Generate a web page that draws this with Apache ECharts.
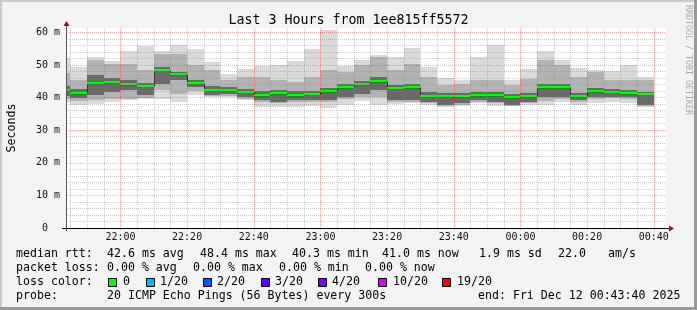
<!DOCTYPE html>
<html><head><meta charset="utf-8">
<script src="https://cdn.jsdelivr.net/npm/echarts@6/dist/echarts.min.js"></script>
<style>html,body{margin:0;padding:0;background:#f3f3f3}#c{width:697px;height:310px}</style>
</head><body><div id="c"></div>
<script>
// ---- data (values in ms) ----
const axisStart = '21:43:40';
const axisEnd = '00:43:40';
const slotEnds = ['21:45','21:50','21:55','22:00','22:05','22:10','22:15','22:20','22:25','22:30','22:35','22:40','22:45','22:50','22:55','23:00','23:05','23:10','23:15','23:20','23:25','23:30','23:35','23:40','23:45','23:50','23:55','00:00','00:05','00:10','00:15','00:20','00:25','00:30','00:35','00:40'];
const medians = [42.4,41.5,44.6,44.8,44.1,43.6,48.4,47.2,44.6,42.2,42.4,41.6,40.9,41.5,40.9,41.1,42.0,43.3,44.2,45.1,43.0,43.2,40.6,40.4,40.4,40.8,40.8,40.3,40.4,43.1,43.2,40.5,41.9,41.6,41.3,41.0];
const pingMax = [52.1,49.4,52.4,51.1,54.2,55.7,54.2,56.2,55.0,50.9,47.3,48.7,49.7,49.9,51.1,54.8,60.6,49.6,51.6,53.0,52.6,55.2,49.4,46.0,45.3,52.6,56.0,45.3,48.7,54.2,51.6,49.1,48.4,48.1,49.9,46.3];
const upperMid = [47.5,45.3,51.4,50.4,50.4,48.4,53.5,53.5,49.9,48.4,45.3,46.3,46.3,45.3,44.8,46.3,48.4,47.9,49.9,52.4,48.4,50.4,46.3,43.8,44.3,45.3,45.3,43.8,45.8,51.4,49.9,46.3,47.9,45.3,45.3,45.3];
const upperCore = [43.5,42.5,47.0,46.0,45.5,44.5,49.5,48.0,45.3,43.5,43.3,42.5,42.0,42.4,41.9,42.0,43.0,44.3,45.2,46.2,44.0,44.3,41.6,41.3,41.3,41.8,41.8,41.2,41.3,44.1,44.2,41.5,42.9,42.6,42.3,41.8];
const lowerCore = [40.5,40.0,40.7,41.7,42.2,40.7,44.3,45.3,43.3,40.7,41.0,40.2,39.2,38.7,39.2,39.2,39.2,40.2,41.2,42.2,39.2,39.2,38.7,37.6,38.2,39.2,38.7,37.6,38.7,40.2,40.2,39.2,40.2,40.2,40.2,37.6];
const lowerMid = [39.5,39.0,39.2,39.7,39.7,40.0,42.2,41.2,42.0,40.5,40.5,39.7,38.5,38.2,38.6,38.5,38.5,39.5,40.2,40.2,38.6,38.7,38.2,37.3,37.8,38.7,38.2,37.4,38.4,39.0,39.5,38.5,39.5,39.8,39.6,37.4];
const pingMin = [38.6,37.6,38.0,38.7,39.2,39.7,39.7,38.7,40.7,40.2,40.2,39.4,37.1,37.1,37.1,37.3,36.9,37.6,39.0,37.6,38.0,38.2,37.6,37.0,37.3,38.2,37.3,37.3,37.6,37.6,38.7,37.6,38.2,38.7,38.2,37.2];
const xTickLabels = ['22:00','22:20','22:40','23:00','23:20','23:40','00:00','00:20','00:40'];
const yTickValues = [0,10,20,30,40,50,60];
const yTickLabels = ['0  ','10 m','20 m','30 m','40 m','50 m','60 m'];
const yMax = 61.35;
const lossLabels = ['0','1/20','2/20','3/20','4/20','10/20','19/20'];
const lossColors = ['#00ff00','#00b8ff','#0059ff','#5e00ff','#7e00ff','#dd00ff','#ff0000'];

// ---- helpers ----
function toMin(s){ const p=s.split(':').map(Number); let h=p[0]; if(h<12) h+=24; return (h-21)*60+p[1]+(p[2]||0)/60; }
const XMIN = toMin(axisStart), XMAX = toMin(axisEnd);
const majorX = xTickLabels.map(toMin);
const minorX = []; for (let m = 45; m < XMAX; m += 5) if (m % 20 !== 0) minorX.push(m);
const minorY = []; for (let v = 2; v < yMax; v += 2) if (v % 10 !== 0) minorY.push(v);
const FONT = 'DejaVu Sans Mono';

const smokeData = slotEnds.map((t,i)=>{ const e=toMin(t); const s=Math.max(XMIN,e-5);
  return [s,e,pingMin[i],lowerMid[i],lowerCore[i],medians[i],upperCore[i],upperMid[i],pingMax[i]]; });
const medData = slotEnds.map((t,i)=>{ const e=toMin(t); const s=Math.max(XMIN,e-5);
  return [s,e,medians[i], i>0?medians[i-1]:medians[i]]; });

const shades = ['#dadada','#b3b3b3','#6a6a6a'];
function renderSmoke(params, api){
  const s=api.value(0), e=api.value(1);
  const pairs=[[2,8],[3,7],[4,6]];
  const children = pairs.map((p,k)=>{
    const a=api.coord([s,api.value(p[1])]), b=api.coord([e,api.value(p[0])]);
    const x0=Math.round(a[0]), x1=Math.round(b[0]), y0=Math.round(a[1]), y1=Math.round(b[1]);
    return {type:'rect', shape:{x:x0,y:y0,width:x1-x0,height:y1-y0}, style:{fill:shades[k]}};
  });
  return {type:'group', children};
}
function renderMedian(params, api){
  const s=api.value(0), e=api.value(1), m=api.value(2), pm=api.value(3);
  const a=api.coord([s,m]), b=api.coord([e,m]), c=api.coord([s,pm]);
  const x0=Math.round(a[0]), x1=Math.round(b[0]);
  const y=Math.round(a[1]);
  return {type:'group', children:[
    {type:'line', shape:{x1:x0+0.5,y1:Math.round(c[1])+0.5,x2:x0+0.5,y2:y+0.5}, style:{stroke:'#202020',lineWidth:1}},
    {type:'rect', shape:{x:x0,y:y+1,width:x1-x0,height:1}, style:{fill:'#202020'}},
    {type:'rect', shape:{x:x0,y:y-1,width:x1-x0,height:2.5}, style:{fill:'#00ff00'}}
  ]};
}

const chart = echarts.init(document.getElementById('c'), null, {renderer:'canvas'});
const gridLeft=66, gridTop=28, gridW=600, gridH=200;
chart.setOption({
  backgroundColor:'#f3f3f3',
  animation:false,
  title:{text:'Last 3 Hours from 1ee815ff5572', left:'center', top:14, padding:0,
    textStyle:{fontFamily:FONT,fontSize:13.3,fontWeight:'normal',color:'#000'}},
  grid:{left:gridLeft,top:gridTop,width:gridW,height:gridH,show:true,backgroundColor:'#ffffff',borderWidth:0,
    containLabel:false,outerBoundsMode:'none'},
  xAxis:[
    {type:'value',min:XMIN,max:XMAX,position:'bottom',z:6,
     axisLine:{show:true,onZero:false,lineStyle:{color:'#000',width:1}},
     axisTick:{show:true,customValues:majorX,length:2,lineStyle:{color:'rgba(255,0,0,0.4)'}},
     axisLabel:{customValues:majorX,formatter:v=>{const i=majorX.findIndex(m=>Math.abs(m-v)<1e-6);return i>=0?xTickLabels[i]:'';},
       fontFamily:FONT,fontSize:10,color:'#111',margin:4},
     splitLine:{show:true,lineStyle:{color:'rgba(255,0,0,0.35)',type:[1,1],width:1}}},
    {type:'value',min:XMIN,max:XMAX,position:'bottom',z:5,
     axisLine:{show:false},
     axisTick:{show:true,customValues:minorX,length:2,lineStyle:{color:'rgba(150,150,150,0.5)'}},
     axisLabel:{show:false},
     splitLine:{show:true,lineStyle:{color:'rgba(128,128,128,0.4)',type:[1,1],width:1}}}
  ],
  yAxis:[
    {type:'value',min:0,max:yMax,position:'left',z:6,name:'Seconds',nameLocation:'middle',nameRotate:90,nameGap:48,
     nameTextStyle:{fontFamily:FONT,fontSize:11.6,color:'#000'},
     axisLine:{show:true,lineStyle:{color:'#555',width:1}},
     axisTick:{show:false,customValues:yTickValues},
     axisLabel:{customValues:yTickValues,formatter:v=>{const i=yTickValues.indexOf(Math.round(v));return i>=0?yTickLabels[i]:'';},
       fontFamily:FONT,fontSize:10,color:'#111',margin:6},
     splitLine:{show:true,lineStyle:{color:'rgba(255,0,0,0.35)',type:[1,1],width:1}}},
    {type:'value',min:0,max:yMax,position:'left',z:5,
     axisLine:{show:false},axisTick:{show:false,customValues:minorY},axisLabel:{show:false},
     splitLine:{show:true,lineStyle:{color:'rgba(128,128,128,0.4)',type:[1,1],width:1}}}
  ],
  series:[
    {type:'custom',name:'smoke',xAxisIndex:0,yAxisIndex:0,z:1,renderItem:renderSmoke,data:smokeData,clip:true},
    {type:'custom',name:'median',xAxisIndex:0,yAxisIndex:0,z:2,renderItem:renderMedian,data:medData,clip:true}
  ]
});

// decorations: frame, arrows, watermark, legend text
const o = chart.convertToPixel({gridIndex:0},[XMIN,0]);
const r = chart.convertToPixel({gridIndex:0},[XMAX,yMax]);
const ox=Math.round(o[0]), oy=Math.round(o[1]), rx=Math.round(r[0]), ty=Math.round(r[1]);
const g = [];
g.push({type:'rect',shape:{x:0,y:0,width:697,height:2},style:{fill:'#cbcbcb'},silent:true});
g.push({type:'rect',shape:{x:0,y:0,width:2,height:310},style:{fill:'#cbcbcb'},silent:true});
g.push({type:'rect',shape:{x:0,y:307,width:697,height:3},style:{fill:'#999999'},silent:true});
g.push({type:'rect',shape:{x:694,y:0,width:3,height:310},style:{fill:'#999999'},silent:true});
// axis extensions & arrows
g.push({type:'line',shape:{x1:ox-4,y1:oy+0.5,x2:rx+3,y2:oy+0.5},style:{stroke:'#000',lineWidth:1},z:20});
g.push({type:'polygon',shape:{points:[[rx+3,oy-2.5],[rx+8,oy+0.5],[rx+3,oy+3.5]]},style:{fill:'#a01010'},z:20});
g.push({type:'line',shape:{x1:ox+0.5,y1:oy+3,x2:ox+0.5,y2:ty-2},style:{stroke:'#555',lineWidth:1},z:20});
g.push({type:'polygon',shape:{points:[[ox-2.5,ty-2],[ox+0.5,ty-7],[ox+3.5,ty-2]]},style:{fill:'#a01010'},z:20});
// watermark
g.push({type:'text',x:688,y:5,rotation:-Math.PI/2,style:{text:'RRDTOOL / TOBI OETIKER',font:'8.3px "DejaVu Sans Mono"',fill:'#aaaaaa',align:'left',verticalAlign:'middle'}});
// legend rows
const LF='11.6px "DejaVu Sans Mono"';
const rows=[
  [254.3,[[16,'median rtt:'],[107,'42.6 ms avg'],[200,'48.4 ms max'],[292,'40.3 ms min'],[382,'41.0 ms now'],[479,'1.9 ms sd'],[558,'22.0'],[608,'am/s']]],
  [268.3,[[16,'packet loss:'],[107,'0.00 % avg'],[193,'0.00 % max'],[279,'0.00 % min'],[365,'0.00 % now']]],
  [282.3,[[16,'loss color:']]],
  [296.3,[[16,'probe:'],[107,'20 ICMP Echo Pings (56 Bytes) every 300s'],[478,'end: Fri Dec 12 00:43:40 2025']]]
];
rows.forEach(([y,items])=>items.forEach(([x,t])=>g.push({type:'text',x:x,y:y,style:{text:t,font:LF,fill:'#000',align:'left',verticalAlign:'middle'}})));
const boxX=[108,146,203,261,318,378,442], labX=[123,160,217,275,332,393,457];
lossLabels.forEach((l,i)=>{
  g.push({type:'rect',shape:{x:boxX[i]+0.5,y:278.5,width:8,height:8},style:{fill:lossColors[i],stroke:'#000',lineWidth:1}});
  g.push({type:'text',x:labX[i],y:282.3,style:{text:l,font:LF,fill:'#000',align:'left',verticalAlign:'middle'}});
});
chart.setOption({graphic:g});
</script></body></html>
